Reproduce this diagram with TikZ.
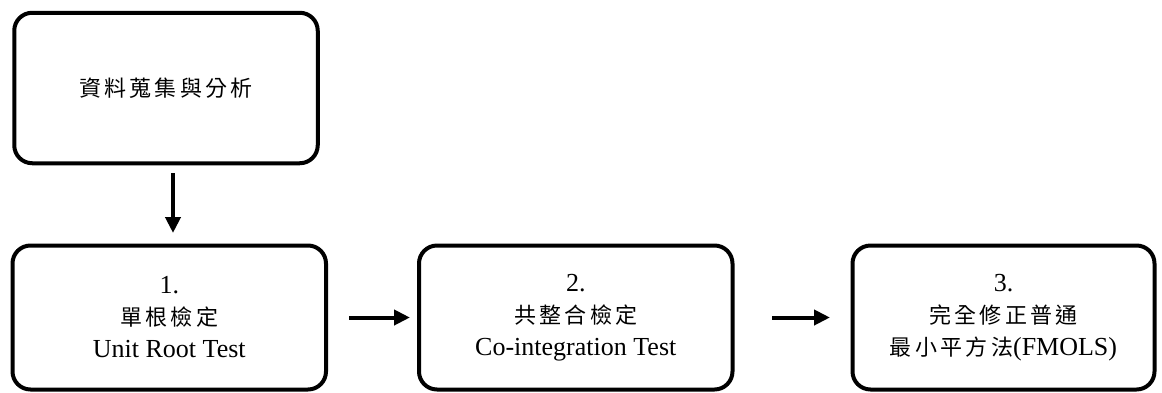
\documentclass[tikz,border=0pt]{standalone}
\usepackage{fontspec}
\setmainfont{Liberation Serif}
\newfontfamily\cjk[LetterSpace=15]{Noto Sans CJK TC}
\usetikzlibrary{arrows.meta}

\newcommand{\zh}[1]{{\cjk\fontsize{22}{32}\selectfont #1}}

\begin{document}
\begin{tikzpicture}[x=1pt,y=-1pt]
\tikzset{stepbox/.style={draw, line width=4pt, rounded corners=18pt, align=center, inner sep=0pt, font=\fontsize{26}{32}\selectfont},
         flow/.style={-{Triangle[length=16pt,width=15pt]}, line width=4pt}}

\useasboundingbox (0,0) rectangle (1162,392);

% boxes
\node[stepbox, minimum width=303.5pt, minimum height=150.5pt] (data) at (166,88) {\zh{資料蒐集與分析}};

\node[stepbox, minimum width=313.5pt, minimum height=144pt] (unit) at (169.25,317.5) {1.\\\zh{單根檢定}\\Unit Root Test};
\node[stepbox, minimum width=313.5pt, minimum height=144pt] (coint) at (575.75,317.5) {2.\\\zh{共整合檢定}\\Co-integration Test};
\node[stepbox, minimum width=302pt, minimum height=144pt] (fmols) at (1003.5,317.5) {3.\\\zh{完全修正普通}\\\zh{最小平方法}(FMOLS)};

% arrows
\draw[flow, shorten <=8pt, shorten >=10.5pt] ([xshift=7pt]data.south) -- ([xshift=7pt]data.south |- unit.north);
\draw[flow, shorten <=21pt, shorten >=7pt] (unit.east) -- (coint.west);
\draw[flow, shorten <=37.5pt, shorten >=20.5pt] (coint.east) -- (fmols.west);

\end{tikzpicture}
\end{document}
